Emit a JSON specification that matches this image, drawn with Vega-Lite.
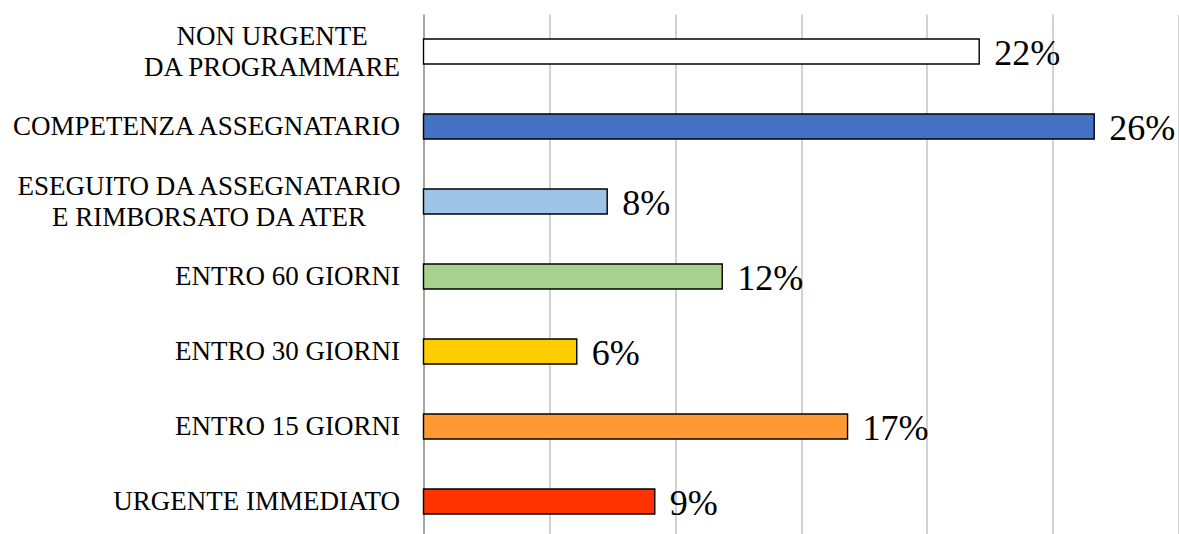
{
  "$schema": "https://vega.github.io/schema/vega-lite/v6.json",
  "autosize": {"type": "none"},
  "padding": {"left": 423.5, "top": 14, "right": 0, "bottom": 0},
  "width": 755,
  "height": 525,
  "background": "#ffffff",
  "config": {"view": {"stroke": null}, "font": "Liberation Serif"},
  "data": {
    "values": [
      {"cat": "NON URGENTE|DA PROGRAMMARE", "value": 0.2208, "label": "22%", "color": "#FFFFFF"},
      {"cat": "COMPETENZA ASSEGNATARIO", "value": 0.2665, "label": "26%", "color": "#4472C4"},
      {"cat": "ESEGUITO DA ASSEGNATARIO|E RIMBORSATO DA ATER", "value": 0.073, "label": "8%", "color": "#9DC3E6"},
      {"cat": "ENTRO 60 GIORNI", "value": 0.1187, "label": "12%", "color": "#A9D18E"},
      {"cat": "ENTRO 30 GIORNI", "value": 0.0609, "label": "6%", "color": "#FFCC00"},
      {"cat": "ENTRO 15 GIORNI", "value": 0.1685, "label": "17%", "color": "#FF9933"},
      {"cat": "URGENTE IMMEDIATO", "value": 0.0919, "label": "9%", "color": "#FF3300"}
    ]
  },
  "encoding": {
    "y": {
      "field": "cat",
      "type": "nominal",
      "sort": null,
      "scale": {"paddingInner": 0.667, "paddingOuter": 0.3335},
      "axis": {
        "title": null,
        "ticks": false,
        "tickSize": 0,
        "domain": true,
        "domainColor": "#808080",
        "domainWidth": 1.4,
        "labelExpr": "split(datum.value, '|')",
        "labelFont": "Liberation Serif",
        "labelFontSize": 27,
        "labelColor": "#000000",
        "labelLimit": 600,
        "labelLineHeight": 31.5,
        "labelBaseline": "middle",
        "labelAlign": {
          "condition": {"test": "indexof(datum.value, '|') >= 0", "value": "center"},
          "value": "right"
        },
        "labelOffset": {
          "condition": {"test": "indexof(datum.value, '|') >= 0", "value": -15},
          "value": 0
        },
        "labelPadding": {
          "condition": [
            {"test": "datum.value == 'NON URGENTE|DA PROGRAMMARE'", "value": 152},
            {"test": "datum.value == 'ESEGUITO DA ASSEGNATARIO|E RIMBORSATO DA ATER'", "value": 215}
          ],
          "value": 24
        }
      }
    },
    "x": {
      "field": "value",
      "type": "quantitative",
      "scale": {"domain": [0, 0.3], "nice": false},
      "axis": {
        "title": null,
        "labels": false,
        "ticks": false,
        "domain": false,
        "grid": true,
        "values": [0.05, 0.1, 0.15, 0.2, 0.25, 0.3],
        "gridColor": "#BFBFBF",
        "gridWidth": 1.4
      }
    }
  },
  "layer": [
    {
      "mark": {"type": "bar", "stroke": "#000000", "strokeWidth": 1.4},
      "encoding": {
        "color": {"field": "color", "type": "nominal", "scale": null, "legend": null}
      }
    },
    {
      "mark": {
        "type": "text",
        "align": "left",
        "baseline": "alphabetic",
        "dx": 15,
        "dy": 13.7,
        "font": "Liberation Serif",
        "fontSize": 36,
        "color": "#000000"
      },
      "encoding": {"text": {"field": "label"}}
    }
  ]
}
